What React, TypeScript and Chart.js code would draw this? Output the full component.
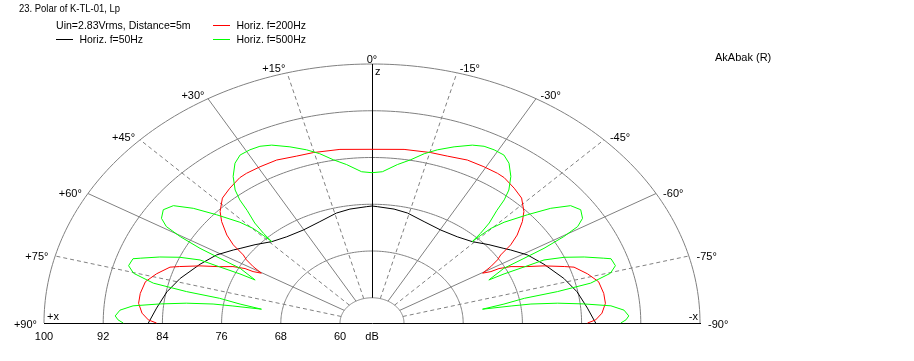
import React, { useEffect, useRef } from "react";
import { Chart, registerables } from "chart.js";

Chart.register(...registerables);

const TITLE = "23. Polar of K-TL-01, Lp";
const SUBTITLE = "Uin=2.83Vrms, Distance=5m";
const SOFTWARE = "AkAbak (R)";
const UNIT = "dB";

const DB_MIN = 55.68;
const DB_MAX = 100;
const ringLevels = [60, 68, 76, 84, 92, 100];
const ringLabels = ["60", "68", "76", "84", "92", "100"];
const spokeAngles = [90, 75, 60, 45, 30, 15, 0, -15, -30, -45, -60, -75, -90];
const spokeLabels = ["+90°", "+75°", "+60°", "+45°", "+30°", "+15°", "0°", "-15°", "-30°", "-45°", "-60°", "-75°", "-90°"];
const dashedSpokes = [75, 45, 15, -15, -45, -75];

const seriesNames = ["Horiz. f=50Hz", "Horiz. f=200Hz", "Horiz. f=500Hz"];
const seriesColors = ["#000000", "#ff0000", "#00ff00"];

// angle in degrees (+ = left), level in dB, in trace order
const anglesF50 = [90, 85, 79.1, 73.6, 66.6, 61, 56.3, 54.4, 49.7, 44.2, 38, 30.2, 22.1, 14.3, 8.7, 2.1, 0, -2.1, -8.7, -14.3, -22.1, -30.2, -38, -44.2, -49.7, -54.4, -56.3, -61, -66.6, -73.6, -79.1, -85, -90];
const levelsF50 = [85.9, 84.9, 83.9, 82.7, 81.0, 79.7, 78.2, 77.6, 76.4, 75.1, 74.4, 74.1, 74.4, 75.1, 75.4, 75.6, 75.7, 75.6, 75.4, 75.1, 74.4, 74.1, 74.4, 75.1, 76.4, 77.6, 78.2, 79.7, 81.0, 82.7, 83.9, 84.9, 85.9];

const anglesF200 = [90, 89.0, 86.9, 83.9, 80.8, 77.0, 73.9, 70.7, 69.6, 67.2, 64.9, 62.8, 61.5, 61.3, 60.3, 59.0, 57.5, 56.2, 54.5, 52.5, 49.5, 47.1, 43.4, 39.8, 35.7, 33.5, 29.5, 24.8, 19.6, 15.2, 8.3, 0,
  -8.3, -15.2, -19.6, -24.8, -29.5, -33.5, -35.7, -39.8, -43.4, -47.1, -49.5, -52.5, -54.5, -56.2, -57.5, -59.0, -60.3, -61.3, -61.5, -62.8, -64.9, -67.2, -69.6, -70.7, -73.9, -77.0, -80.8, -83.9, -86.9, -89.0, -90];
const levelsF200 = [84.8, 85.9, 86.8, 87.4, 87.4, 87.1, 86.0, 84.6, 83.4, 80.9, 78.4, 76.8, 75.2, 74.0, 72.9, 74.4, 75.8, 76.6, 78.7, 80.4, 82.4, 83.7, 85.1, 85.7, 86.3, 86.4, 86.4, 86.4, 86.0, 85.9, 85.7, 85.4,
  85.7, 85.9, 86.0, 86.4, 86.4, 86.4, 86.3, 85.7, 85.1, 83.7, 82.4, 80.4, 78.7, 76.6, 75.8, 74.4, 72.9, 74.0, 75.2, 76.8, 78.4, 80.9, 83.4, 84.6, 86.0, 87.1, 87.4, 87.4, 86.8, 85.9, 84.8];

const anglesF500 = [90, 89.1, 88.0, 86.3, 84.8, 83.5, 82.3, 81.4, 81.2, 81.0, 79.7, 78.4, 77.9, 77.0, 75.2, 73.4, 71.2, 70.5, 68.5, 66.6, 65.1, 65.0, 64.8, 65.0, 62.3, 61.7, 61.2, 60.3, 59.3, 57.8, 55.5, 53.2, 50.9, 48.6, 46.0, 44.8, 44.4, 44.2, 43.7, 42.8, 41.2, 40.3, 39.1, 36.8, 34.1, 31.8, 29.1, 26.6, 24.0, 20.2, 16.6, 13.7, 10.6, 7.2, 3.1, 0,
  -3.1, -7.2, -10.6, -13.7, -16.6, -20.2, -24.0, -26.6, -29.1, -31.8, -34.1, -36.8, -39.1, -40.3, -41.2, -42.8, -43.7, -44.2, -44.4, -44.8, -46.0, -48.6, -50.9, -53.2, -55.5, -57.8, -59.3, -60.3, -61.2, -61.7, -62.3, -65.0, -64.8, -65.0, -65.1, -66.6, -68.5, -70.5, -71.2, -73.4, -75.2, -77.0, -77.9, -78.4, -79.7, -81.0, -81.2, -81.4, -82.3, -83.5, -84.8, -86.3, -88.0, -89.1, -90];
const levelsF500 = [89.3, 90.0, 90.4, 89.8, 88.1, 84.5, 81.0, 77.4, 74.7, 70.8, 73.8, 76.7, 81.3, 86.0, 89.0, 90.0, 89.8, 88.9, 86.5, 84.0, 81.3, 78.4, 75.4, 73.1, 75.8, 79.0, 82.2, 85.5, 88.0, 89.3, 89.9, 89.2, 86.8, 83.7, 80.5, 78.5, 76.7, 75.1, 76.9, 79.0, 81.3, 83.3, 85.0, 87.0, 88.7, 89.5, 89.6, 89.5, 89.0, 87.8, 86.6, 85.5, 84.1, 83.0, 81.6, 81.4,
  81.6, 83.0, 84.1, 85.5, 86.6, 87.8, 89.0, 89.5, 89.6, 89.5, 88.7, 87.0, 85.0, 83.3, 81.3, 79.0, 76.9, 75.1, 76.7, 78.5, 80.5, 83.7, 86.8, 89.2, 89.9, 89.3, 88.0, 85.5, 82.2, 79.0, 75.8, 73.1, 75.4, 78.4, 81.3, 84.0, 86.5, 88.9, 89.8, 90.0, 89.0, 86.0, 81.3, 76.7, 73.8, 70.8, 74.7, 77.4, 81.0, 84.5, 88.1, 89.8, 90.4, 90.0, 89.3];

const FONT = '11px "Liberation Sans", Arial, sans-serif';
const GRID = "#808080";
const R = DB_MAX - DB_MIN;
const rad = (a: number) => (a * Math.PI) / 180;

const toPoints = (angles: number[], levels: number[]) =>
  angles.map((a, i) => {
    const r = levels[i] - DB_MIN;
    return { x: -r * Math.sin(rad(a)), y: r * Math.cos(rad(a)) };
  });

const polarPos = (chart: any) => {
  const xs = chart.scales.x;
  const ys = chart.scales.y;
  return (a: number, db: number): [number, number] => {
    const r = db - DB_MIN;
    return [xs.getPixelForValue(-r * Math.sin(rad(a))), ys.getPixelForValue(r * Math.cos(rad(a)))];
  };
};

const text = (ctx: CanvasRenderingContext2D, s: string, x: number, y: number, align: CanvasTextAlign = "left", sx = 1) => {
  ctx.save();
  ctx.textAlign = align;
  ctx.textBaseline = "alphabetic";
  ctx.translate(x, y);
  ctx.scale(sx, 1);
  ctx.fillText(s, 0, 0);
  ctx.restore();
};

const polarGrid = {
  id: "polarGrid",
  beforeDatasetsDraw(chart: any) {
    const ctx: CanvasRenderingContext2D = chart.ctx;
    const P = polarPos(chart);
    ctx.save();
    ctx.lineWidth = 1;
    ctx.strokeStyle = GRID;
    for (const lvl of ringLevels) {
      ctx.beginPath();
      for (let a = 90; a >= -90; a -= 1) {
        const [x, y] = P(a, lvl);
        if (a === 90) ctx.moveTo(x, y);
        else ctx.lineTo(x, y);
      }
      ctx.stroke();
    }
    for (const a of spokeAngles) {
      if (a === 0 || Math.abs(a) === 90) continue;
      ctx.setLineDash(dashedSpokes.includes(a) ? [4, 3] : []);
      const [x1, y1] = P(a, ringLevels[0]);
      const [x2, y2] = P(a, DB_MAX);
      ctx.beginPath();
      ctx.moveTo(x1, y1);
      ctx.lineTo(x2, y2);
      ctx.stroke();
    }
    ctx.setLineDash([]);
    ctx.strokeStyle = "#000000";
    const [xl, yb] = P(90, DB_MAX);
    const [xr] = P(-90, DB_MAX);
    const by = Math.round(yb) + 0.5;
    ctx.beginPath();
    ctx.moveTo(xl, by);
    ctx.lineTo(xr + 1, by);
    ctx.stroke();
    const [xc, yt] = P(0, DB_MAX);
    const [, yi] = P(0, ringLevels[0]);
    const vx = Math.round(xc) + 0.5;
    ctx.beginPath();
    ctx.moveTo(vx, yt);
    ctx.lineTo(vx, yi);
    ctx.stroke();
    ctx.restore();
  },
  afterDraw(chart: any) {
    const ctx: CanvasRenderingContext2D = chart.ctx;
    const P = polarPos(chart);
    ctx.save();
    ctx.font = FONT;
    ctx.fillStyle = "#000000";
    spokeAngles.forEach((a, i) => {
      const [x, y] = P(a, DB_MAX);
      const s = Math.sin(rad(Math.abs(a)));
      const c = Math.cos(rad(a));
      const ty = y - 6 * c * c + 4.5;
      if (a > 0) text(ctx, spokeLabels[i], x - 7 * s, ty, "right");
      else if (a < 0) text(ctx, spokeLabels[i], x + 1 + 7 * s, ty, "left");
      else text(ctx, spokeLabels[i], x, ty, "center");
    });
    const [, yb] = P(90, DB_MAX);
    ringLevels.forEach((lvl, i) => {
      const [x] = P(90, lvl);
      text(ctx, ringLabels[i], x, yb + 16.5, "center");
    });
    const [xc, yt] = P(0, DB_MAX);
    text(ctx, UNIT, xc, yb + 16.5, "center");
    const [xl] = P(90, DB_MAX);
    const [xr] = P(-90, DB_MAX);
    text(ctx, "+x", xl + 3, yb - 3, "left");
    text(ctx, "-x", xr - 2, yb - 3, "right");
    text(ctx, "z", xc + 3, yt + 11, "left");

    text(ctx, TITLE, 19, 12, "left", 0.86);
    text(ctx, SUBTITLE, 56, 29, "left", 0.96);
    text(ctx, SOFTWARE, 715, 61, "left");

    const ds = chart.data.datasets;
    const slots = [
      { x: 56, y: 43 },
      { x: 213, y: 29 },
      { x: 213, y: 43 },
    ];
    ds.forEach((d: any, i: number) => {
      const slot = slots[d.legendSlot];
      ctx.fillStyle = seriesColors[d.legendSlot];
      ctx.fillRect(slot.x, slot.y - 4, 17, 1);
      ctx.fillStyle = "#000000";
      text(ctx, d.label, slot.x + 23.5, slot.y, "left", 0.95);
    });
    ctx.restore();
  },
};

export default function App() {
  const ref = useRef<HTMLCanvasElement>(null);
  useEffect(() => {
    document.body.style.margin = "0";
    const chart = new Chart(ref.current as HTMLCanvasElement, {
      type: "scatter",
      data: {
        datasets: [
          { label: seriesNames[2], data: toPoints(anglesF500, levelsF500), borderColor: seriesColors[2], legendSlot: 2 } as any,
          { label: seriesNames[1], data: toPoints(anglesF200, levelsF200), borderColor: seriesColors[1], legendSlot: 1 } as any,
          { label: seriesNames[0], data: toPoints(anglesF50, levelsF50), borderColor: seriesColors[0], legendSlot: 0 } as any,
        ].map((d) => ({ ...d, showLine: true, pointRadius: 0, borderWidth: 1, tension: 0, fill: false, clip: false })),
      },
      options: {
        animation: false,
        responsive: false,
        devicePixelRatio: 1,
        layout: { padding: { left: 44, right: 214, top: 64, bottom: 38 } },
        scales: {
          x: { type: "linear", min: -R, max: R, display: false },
          y: { type: "linear", min: 0, max: R, display: false },
        },
        plugins: { legend: { display: false }, tooltip: { enabled: false }, title: { display: false } },
        events: [],
      },
      plugins: [polarGrid],
    });
    return () => chart.destroy();
  }, []);
  return (
    <div style={{ width: 914, height: 361, background: "#ffffff" }}>
      <canvas ref={ref} width={914} height={361} style={{ display: "block" }} />
    </div>
  );
}
